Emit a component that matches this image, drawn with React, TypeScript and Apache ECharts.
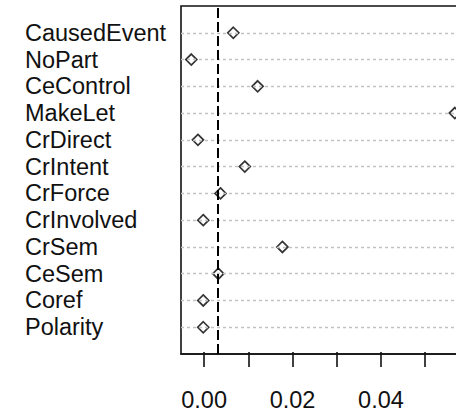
import React, { useEffect, useRef } from "react";
import * as echarts from "echarts";

// Feature names, listed from the top row down
const categories = [
  "CausedEvent",
  "NoPart",
  "CeControl",
  "MakeLet",
  "CrDirect",
  "CrIntent",
  "CrForce",
  "CrInvolved",
  "CrSem",
  "CeSem",
  "Coref",
  "Polarity",
];

// Effect estimate for each feature, same order as categories
const values = [
  0.0066, -0.0029, 0.0121, 0.0567, -0.0014, 0.0092, 0.0037, -0.0002, 0.0177,
  0.0032, -0.0002, -0.0002,
];

// Reference line position
const refValue = 0.003;

// Plotting range of the x axis and its tick grid
const xMin = -0.00523;
const xMax = 0.059;
const tickStart = 0;
const tickEnd = 0.05;
const tickStep = 0.01;

const FONT = "'Liberation Sans', Arial, sans-serif";

const CHART_W = 466;
const CHART_H = 412;
const PLOT_LEFT = 181;
const PLOT_RIGHT = 1;
const PLOT_TOP = 6;
const PLOT_BOTTOM = 58;

export default function App() {
  const ref = useRef<HTMLDivElement>(null);

  useEffect(() => {
    if (!ref.current) return;
    const chart = echarts.init(ref.current, null, { renderer: "svg" });
    const n = categories.length;
    // dotchart layout: first category on top, rows at 1..n, range 0..n+1
    const points = categories.map((_, i) => [values[i], n - i]);
    const nameAt = (v: number) => {
      const idx = n - Math.round(v);
      return v >= 1 && v <= n ? categories[idx] : "";
    };

    // A second, tick-only axis sharing the same scale, starting on a round value
    const plotW = CHART_W - PLOT_LEFT - PLOT_RIGHT;
    const pxPerUnit = plotW / (xMax - xMin);
    const tickLeft = PLOT_LEFT + (tickStart - xMin) * pxPerUnit;
    const tickRight = CHART_W - tickLeft - (tickEnd - tickStart) * pxPerUnit;

    const rowLines = categories.map((_, i) => ({
      yAxis: n - i,
      lineStyle: { color: "#c2c2c2", type: [3, 3], width: 1.4 },
    }));

    chart.setOption({
      animation: false,
      backgroundColor: "#ffffff",
      grid: [
        {
          left: PLOT_LEFT,
          top: PLOT_TOP,
          right: PLOT_RIGHT,
          bottom: PLOT_BOTTOM,
          show: true,
          borderColor: "#111",
          borderWidth: 1.6,
          backgroundColor: "transparent",
        },
        {
          left: tickLeft,
          top: PLOT_TOP,
          right: tickRight,
          bottom: PLOT_BOTTOM,
          show: false,
        },
      ],
      xAxis: [
        {
          type: "value",
          gridIndex: 0,
          min: xMin,
          max: xMax,
          splitLine: { show: false },
          axisLine: { show: true, lineStyle: { color: "#111", width: 1.6 } },
          axisTick: { show: false },
          axisLabel: { show: false },
        },
        {
          type: "value",
          gridIndex: 1,
          min: tickStart,
          max: tickEnd,
          interval: tickStep,
          splitLine: { show: false },
          axisLine: { show: false },
          axisTick: {
            show: true,
            length: 15,
            lineStyle: { color: "#111", width: 1.6 },
          },
          axisLabel: {
            show: true,
            formatter: (v: number) =>
              Math.round(v / tickStep) % 2 === 0 ? v.toFixed(2) : "",
            fontFamily: FONT,
            fontSize: 23.5,
            color: "#111",
            margin: 36,
          },
        },
      ],
      yAxis: [
        {
          type: "value",
          gridIndex: 0,
          min: 0,
          max: n + 1,
          interval: 1,
          splitLine: { show: false },
          axisLine: { show: false },
          axisTick: { show: false },
          axisLabel: {
            formatter: (v: number) => nameAt(v),
            align: "left",
            margin: 156,
            fontFamily: FONT,
            fontSize: 23.5,
            color: "#111",
          },
        },
        {
          type: "value",
          gridIndex: 1,
          min: 0,
          max: n + 1,
          show: false,
        },
      ],
      series: [
        {
          type: "scatter",
          xAxisIndex: 0,
          yAxisIndex: 0,
          data: points,
          symbol: "diamond",
          symbolSize: [11, 11],
          itemStyle: {
            color: "rgba(255,255,255,0)",
            borderColor: "#000",
            borderWidth: 1.7,
          },
          z: 3,
          markLine: {
            silent: true,
            symbol: "none",
            precision: 6,
            label: { show: false },
            data: [
              ...rowLines,
              {
                xAxis: refValue,
                lineStyle: { color: "#000", type: [10, 4], width: 2 },
              },
            ],
          },
        },
      ],
    });
    return () => chart.dispose();
  }, []);

  return (
    <div
      style={{
        position: "fixed",
        left: 0,
        top: 0,
        width: 456,
        height: 412,
        overflow: "hidden",
      }}
    >
      <div ref={ref} style={{ width: CHART_W, height: CHART_H }} />
    </div>
  );
}
